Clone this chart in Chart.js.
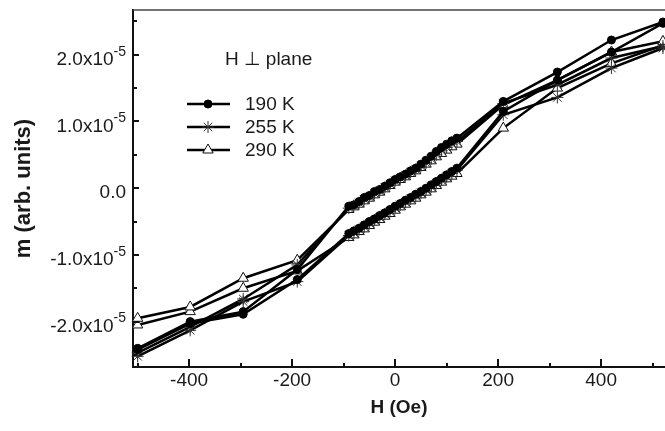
<!DOCTYPE html>
<html><head><meta charset="utf-8">
<script src="https://cdn.jsdelivr.net/npm/chart.js@4.4.1/dist/chart.umd.min.js"></script>
<style>html,body{margin:0;padding:0;background:#fff;}#wrap{width:665px;height:431px;position:relative;}</style>
</head><body><div id="wrap"><canvas id="c" width="665" height="431"></canvas></div>
<script>
// Field values (Oe) of the sweep, ascending
const fieldSweep = [-500, -398, -295, -190, -90, -80, -70, -60, -50, -40, -30, -20, -10, 0, 10, 20, 30, 40, 50, 60, 70, 80, 90, 100, 110, 120, 210, 315, 420, 520];
// magnetic moment in units of 1e-5 (arb. units)
// "Asc" = increasing-field branch (lower), "Desc" = decreasing-field branch (upper), listed in fieldSweep order
const m190Asc  = [-2.42, -2.03, -1.89, -1.37, -0.68, -0.64, -0.60, -0.55, -0.50, -0.46, -0.41, -0.37, -0.32, -0.27, -0.23, -0.18, -0.14, -0.09, -0.05, 0.00, 0.05, 0.10, 0.15, 0.20, 0.25, 0.30, 1.15, 1.62, 2.04, 2.47];
const m190Desc = [-2.40, -2.00, -1.85, -1.22, -0.27, -0.25, -0.20, -0.14, -0.11, -0.05, -0.02, 0.03, 0.08, 0.13, 0.17, 0.21, 0.26, 0.30, 0.36, 0.42, 0.48, 0.55, 0.61, 0.66, 0.71, 0.75, 1.30, 1.74, 2.22, 2.49];
const m255Asc  = [-2.52, -2.13, -1.70, -1.40, -0.71, -0.67, -0.62, -0.58, -0.53, -0.48, -0.44, -0.39, -0.35, -0.30, -0.25, -0.21, -0.16, -0.12, -0.07, -0.03, 0.02, 0.07, 0.12, 0.17, 0.22, 0.27, 1.10, 1.36, 1.80, 2.10];
const m255Desc = [-2.47, -2.08, -1.66, -1.15, -0.30, -0.26, -0.22, -0.17, -0.13, -0.08, -0.04, 0.01, 0.06, 0.11, 0.15, 0.19, 0.24, 0.28, 0.33, 0.38, 0.44, 0.50, 0.56, 0.61, 0.66, 0.70, 1.27, 1.55, 1.95, 2.13];
const m290Asc  = [-2.05, -1.85, -1.50, -1.24, -0.74, -0.70, -0.65, -0.61, -0.56, -0.51, -0.47, -0.42, -0.38, -0.33, -0.28, -0.24, -0.19, -0.15, -0.10, -0.06, -0.01, 0.04, 0.09, 0.14, 0.18, 0.22, 0.90, 1.50, 1.87, 2.14];
const m290Desc = [-1.95, -1.78, -1.35, -1.08, -0.32, -0.28, -0.24, -0.19, -0.15, -0.10, -0.06, -0.01, 0.04, 0.09, 0.13, 0.17, 0.22, 0.26, 0.31, 0.36, 0.41, 0.47, 0.52, 0.57, 0.62, 0.66, 1.25, 1.62, 2.04, 2.20];

const seriesNames = ['190 K', '255 K', '290 K'];
const legendHeader = 'H \u22A5 plane';
const xMajorTicks = [-400, -200, 0, 200, 400];
const xMinorTicks = [-500, -300, -100, 100, 300, 500];
const yTickValues = [-2, -1, 0, 1, 2];
const yTickLabels = ['-2.0x10^-5', '-1.0x10^-5', '0.0', '1.0x10^-5', '2.0x10^-5'];
const yMinorTicks = [-2.5, -1.5, -0.5, 0.5, 1.5, 2.5];

const FONT = '"Liberation Sans", Arial, Helvetica, "DejaVu Sans", sans-serif';
const INK = '#1a1a1a';

function loop(asc, desc) {
  const pts = fieldSweep.map((h, i) => ({x: h, y: asc[i]}));
  for (let i = fieldSweep.length - 1; i >= 0; i--) pts.push({x: fieldSweep[i], y: desc[i]});
  return pts;
}

const styles = [
  {pointStyle: 'circle', radius: 4, bg: '#000', border: '#000', bw: 1},
  {pointStyle: 'star', radius: 6, bg: '#fff', border: '#333', bw: 1},
  {pointStyle: 'triangle', radius: 6, bg: '#fff', border: '#111', bw: 1}
];
const loops = [loop(m190Asc, m190Desc), loop(m255Asc, m255Desc), loop(m290Asc, m290Desc)];

const datasets = loops.map((d, i) => ({
  label: seriesNames[i],
  data: d,
  showLine: true,
  borderColor: '#000',
  borderWidth: 2.5,
  tension: 0,
  pointStyle: styles[i].pointStyle,
  pointRadius: styles[i].radius,
  pointBackgroundColor: styles[i].bg,
  pointBorderColor: styles[i].border,
  pointBorderWidth: styles[i].bw,
  clip: 6
}));

const decor = {
  id: 'decor',
  afterDraw(chart) {
    const {ctx, chartArea: a, scales: {x, y}} = chart;
    ctx.save();
    // top frame line
    ctx.strokeStyle = '#444'; ctx.lineWidth = 1.5;
    ctx.beginPath(); ctx.moveTo(a.left, a.top); ctx.lineTo(a.right, a.top); ctx.stroke();
    // inward ticks
    ctx.strokeStyle = '#111'; ctx.lineWidth = 2;
    const xt = (v, len) => { const p = Math.round(x.getPixelForValue(v)); ctx.beginPath(); ctx.moveTo(p, a.bottom); ctx.lineTo(p, a.bottom - len); ctx.stroke(); };
    const yt = (v, len) => { const p = Math.round(y.getPixelForValue(v)); ctx.beginPath(); ctx.moveTo(a.left, p); ctx.lineTo(a.left + len, p); ctx.stroke(); };
    xMajorTicks.forEach(v => xt(v, 8)); xMinorTicks.forEach(v => xt(v, 4));
    yTickValues.forEach(v => yt(v, 6)); yMinorTicks.forEach(v => yt(v, 4));
    // y tick labels with superscript exponent
    ctx.fillStyle = INK; ctx.textBaseline = 'middle'; ctx.textAlign = 'right';
    yTickValues.forEach((v, i) => {
      const p = y.getPixelForValue(v);
      const parts = yTickLabels[i].split('^');
      let xr = a.left - 7;
      if (parts.length > 1) {
        ctx.font = '14px ' + FONT;
        ctx.fillText(parts[1], xr, p - 3);
        xr -= ctx.measureText(parts[1]).width;
      }
      ctx.font = '19px ' + FONT;
      ctx.fillText(parts[0], xr, p + 5);
    });
    // legend
    ctx.textAlign = 'left';
    ctx.font = '19px ' + FONT;
    ctx.fillText(legendHeader, 225, 60);
    const rows = [104, 127, 150];
    rows.forEach((ry, i) => {
      ctx.strokeStyle = '#000'; ctx.lineWidth = 2.5;
      ctx.beginPath(); ctx.moveTo(187, ry); ctx.lineTo(230, ry); ctx.stroke();
      ctx.fillStyle = styles[i].bg; ctx.strokeStyle = styles[i].border; ctx.lineWidth = styles[i].bw;
      Chart.helpers.drawPoint(ctx, {pointStyle: styles[i].pointStyle, radius: styles[i].radius, borderWidth: styles[i].bw, rotation: 0}, 208, ry);
      ctx.fillStyle = INK;
      ctx.fillText(seriesNames[i], 245, ry + 1);
    });
    ctx.restore();
  }
};

new Chart(document.getElementById('c').getContext('2d'), {
  type: 'scatter',
  data: {datasets},
  options: {
    responsive: false, animation: false, devicePixelRatio: 1,
    layout: {autoPadding: false, padding: {top: 10, right: 0, bottom: 0, left: 0}},
    plugins: {legend: {display: false}, tooltip: {enabled: false}},
    scales: {
      x: {
        type: 'linear', min: -509, max: 524,
        grid: {display: false, drawTicks: false},
        border: {display: true, color: '#111', width: 2},
        afterBuildTicks: s => { s.ticks = xMajorTicks.map(v => ({value: v})); },
        ticks: {autoSkip: false, maxRotation: 0, padding: 2, color: INK, font: {family: FONT, size: 19}},
        title: {display: true, text: 'H (Oe)', color: INK, font: {family: FONT, size: 19, weight: 'bold'}, padding: {top: 0, bottom: 12}},
        afterFit: s => { s.height = 64; s.paddingLeft = 0; s.paddingRight = 0; }
      },
      y: {
        type: 'linear', min: -2.68, max: 2.67,
        grid: {display: false, drawTicks: false},
        border: {display: true, color: '#111', width: 2},
        afterBuildTicks: s => { s.ticks = yTickValues.map(v => ({value: v})); },
        ticks: {display: false},
        title: {display: true, text: 'm (arb. units)', color: INK, font: {family: FONT, size: 22, weight: 'bold'}, padding: {top: 11, bottom: 0}},
        afterFit: s => { s.width = 133; s.paddingTop = 0; s.paddingBottom = 0; }
      }
    }
  },
  plugins: [decor]
});
</script></body></html>
